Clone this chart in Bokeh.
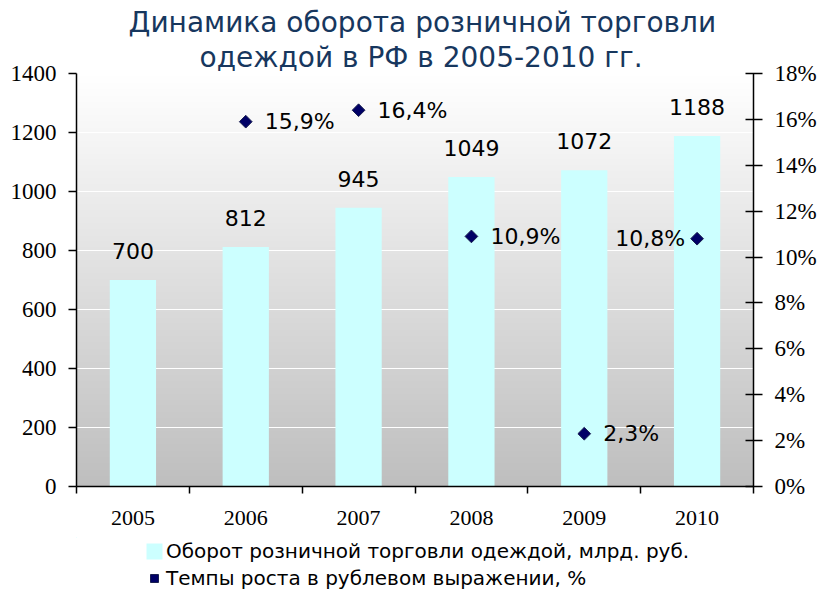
import numpy as np
from bokeh.plotting import figure
from bokeh.layouts import column
from bokeh.models import (Range1d, LinearAxis, FixedTicker, Title, Legend, LegendItem,
                          ColumnDataSource, PrintfTickFormatter, CDSView, IndexFilter)
from bokeh.core.properties import value
from bokeh.embed import file_html
from bokeh.resources import INLINE

# ---- data ----
years = ["2005", "2006", "2007", "2008", "2009", "2010"]
turnover = [700, 812, 945, 1049, 1072, 1188]
growth_years = ["2006", "2007", "2008", "2009", "2010"]
growth = [15.9, 16.4, 10.9, 2.3, 10.8]
left_ticks = [0, 200, 400, 600, 800, 1000, 1200, 1400]
right_ticks = [0, 2, 4, 6, 8, 10, 12, 14, 16, 18]
title_lines = ["Динамика оборота розничной торговли", "одеждой в РФ в 2005-2010 гг."]
bar_name = "Оборот розничной торговли одеждой, млрд. руб."
pt_name = "Темпы роста в рублевом выражении, %"

BAR_COLOR = "#CCFFFF"
PT_FILL = "#000066"
PT_LINE = "#1a2050"

xpos = list(range(len(years)))
gpos = [years.index(y) for y in growth_years]

W = 821
H1, H2 = 537, 58
p = figure(width=W, height=H1, output_backend="svg", toolbar_location=None,
           x_range=Range1d(-0.5, len(years) - 0.5), y_range=Range1d(0, 1400),
           min_border_left=76, min_border_right=68, min_border_top=73, min_border_bottom=51,
           background_fill_color="white", border_fill_color="white")
p.outline_line_color = None
p.extra_y_ranges = {"pct": Range1d(0, 18)}

# gradient background (decoration)
N = 256
img = np.zeros((N, 1), dtype=np.uint32)
view = img.view(dtype=np.uint8).reshape((N, 1, 4))
for i in range(N):
    t = i / (N - 1)
    c = int(round(190 + (255 - 190) * t))
    view[i, 0, :] = [c, c, c, 255]
p.image_rgba(image=[img], x=-0.5, y=0, dw=len(years), dh=1400, level="image")

# grid
p.xgrid.visible = False
p.ygrid.ticker = FixedTicker(ticks=left_ticks)
p.ygrid.grid_line_color = "white"
p.ygrid.grid_line_width = 1

# bars
src = ColumnDataSource(dict(x=xpos, top=turnover, lab=[str(v) for v in turnover]))
p.vbar(x="x", top="top", width=0.41, source=src, fill_color=BAR_COLOR, line_color=None)
p.text(x="x", y="top", text="lab", source=src, text_align="center", text_baseline="middle",
       y_offset=-29, text_font=value("DejaVu Sans"), text_font_size="22px", text_color="black")

# growth points
gsrc = ColumnDataSource(dict(x=gpos, y=growth,
                             lab=[f"{v:.1f}".replace(".", ",") + "%" for v in growth]))
p.scatter(x="x", y="y", source=gsrc, y_range_name="pct", marker="square", angle=np.pi / 4,
          size=9, fill_color=PT_FILL, line_color=PT_LINE, line_width=1)
last = len(growth) - 1
lab_style = dict(text_baseline="middle", text_font=value("DejaVu Sans"),
                 text_font_size="22px", text_color="black")
# labels to the right of the markers; the last one (at the right edge of the plot
# area) is put to the left of its marker so that it is not cut off by the frame
p.text(x="x", y="y", text="lab", source=gsrc, y_range_name="pct", x_offset=19,
       text_align="left", view=CDSView(filter=IndexFilter(list(range(last)))), **lab_style)
p.text(x="x", y="y", text="lab", source=gsrc, y_range_name="pct", x_offset=-12,
       text_align="right", view=CDSView(filter=IndexFilter([last])), **lab_style)

# axes
p.yaxis.ticker = FixedTicker(ticks=left_ticks)
ax = p.yaxis[0]
ax.major_tick_out = 8
ax.major_tick_in = 0
ax.minor_tick_out = 0
ax.minor_tick_in = 0
ax.axis_line_color = "black"
ax.axis_line_width = 1.5
ax.major_tick_line_width = 1.5
ax.major_label_text_font = "Liberation Serif"
ax.major_label_text_font_size = "23px"
ax.major_label_text_color = "black"
ax.major_label_standoff = 12

rax = LinearAxis(y_range_name="pct", ticker=FixedTicker(ticks=right_ticks),
                 formatter=PrintfTickFormatter(format="%d%%"))
rax.major_tick_out = 9
rax.major_tick_in = 8
rax.minor_tick_out = 0
rax.minor_tick_in = 0
rax.axis_line_color = "black"
rax.axis_line_width = 1.5
rax.major_tick_line_width = 1.5
rax.major_label_text_font = "Liberation Serif"
rax.major_label_text_font_size = "23px"
rax.major_label_text_color = "black"
rax.major_label_standoff = 12
p.add_layout(rax, "right")

xa = p.xaxis[0]
xa.ticker = FixedTicker(ticks=xpos, minor_ticks=[i - 0.5 for i in range(len(years) + 1)])
xa.major_label_overrides = {i: y for i, y in enumerate(years)}
xa.major_tick_out = 0
xa.major_tick_in = 0
xa.minor_tick_out = 7
xa.minor_tick_in = 0
xa.minor_tick_line_color = "black"
xa.minor_tick_line_width = 1.5
xa.axis_line_color = "black"
xa.axis_line_width = 1.5
xa.major_label_text_font = "Liberation Serif"
xa.major_label_text_font_size = "22px"
xa.major_label_text_color = "black"
xa.major_label_standoff = 17

# title (two lines, the later-added one sits on top)
for line, off in reversed(list(zip(title_lines, [52, 123]))):
    p.add_layout(Title(text=line, align="left", offset=off, standoff=0,
                       text_font="DejaVu Sans", text_font_size="28px", text_font_style="normal",
                       text_color="#17375E"), "above")

# legend strip (separate figure so that the legend is not clipped by the plot frame);
# its ranges keep the shared-source glyphs out of view, only the legend is visible
p2 = figure(width=W, height=H2, output_backend="svg", toolbar_location=None,
            x_range=Range1d(100, 101), y_range=Range1d(-101, -100),
            min_border_left=0, min_border_right=0, min_border_top=0, min_border_bottom=0,
            background_fill_color="white", border_fill_color="white")
p2.outline_line_color = None
p2.axis.visible = False
p2.grid.visible = False
lb = p2.vbar(x="x", top="top", width=0.41, source=src, fill_color=BAR_COLOR, line_color=None)
lp = p2.scatter(x="x", y="y", source=gsrc, marker="square", angle=np.pi / 4, size=9,
                fill_color=PT_FILL, line_color=PT_LINE, line_width=1)
leg = Legend(items=[LegendItem(label=bar_name, renderers=[lb]),
                    LegendItem(label=pt_name, renderers=[lp])],
             location=(68, 5), orientation="vertical",
             label_text_font="DejaVu Sans", label_text_font_size="20px", label_text_color="black",
             glyph_width=20, glyph_height=20, label_height=20, spacing=3, padding=0, margin=0,
             label_standoff=2, border_line_color=None, background_fill_alpha=0)
p2.add_layout(leg, "center")

layout = column(p, p2, spacing=0)
open("out.html", "w").write(file_html(layout, INLINE))
